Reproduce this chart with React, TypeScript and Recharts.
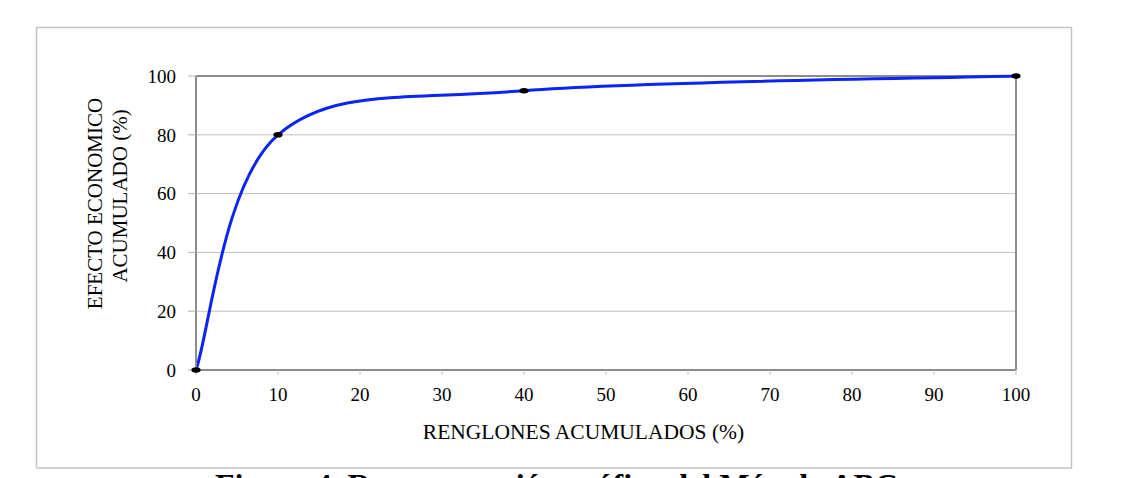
import React from "react";
import { LineChart, Line, XAxis, YAxis, CartesianGrid, ReferenceLine } from "recharts";

const renglones = [0, 10, 40, 100];
const efecto = [0, 80, 95, 100];
const xTicks = [0, 10, 20, 30, 40, 50, 60, 70, 80, 90, 100];
const yTicks = [0, 20, 40, 60, 80, 100];

const data = renglones.map((x, i) => ({ x, y: efecto[i] }));

const FONT = "'Liberation Serif', 'Times New Roman', serif";

// Excel-like smoothed line (Catmull-Rom style Bezier)
const smoothCurve = (context: any) => {
  let pts: [number, number][] = [];
  return {
    areaStart() {},
    areaEnd() {},
    lineStart() {
      pts = [];
    },
    point(x: number, y: number) {
      pts.push([+x, +y]);
    },
    lineEnd() {
      const n = pts.length;
      if (!n) return;
      context.moveTo(pts[0][0], pts[0][1]);
      for (let i = 0; i < n - 1; i++) {
        const p0 = pts[Math.max(0, i - 1)];
        const p1 = pts[i];
        const p2 = pts[i + 1];
        const p3 = pts[Math.min(n - 1, i + 2)];
        context.bezierCurveTo(
          p1[0] + (p2[0] - p0[0]) / 6,
          p1[1] + (p2[1] - p0[1]) / 6,
          p2[0] - (p3[0] - p1[0]) / 6,
          p2[1] - (p3[1] - p1[1]) / 6,
          p2[0],
          p2[1]
        );
      }
    },
  };
};

const Dot = (props: any) => {
  const { cx, cy, index } = props;
  if (cx == null || cy == null) return <g key={index} />;
  return <ellipse key={index} cx={cx} cy={cy} rx={4.6} ry={2.8} fill="#000" />;
};

const YLabel = () => (
  <g>
    <text
      transform="translate(101.5,203.5) rotate(-90)"
      textAnchor="middle"
      fontFamily={FONT}
      fontSize={21}
      fill="#000"
    >
      EFECTO ECONOMICO
    </text>
    <text
      transform="translate(126.5,196) rotate(-90)"
      textAnchor="middle"
      fontFamily={FONT}
      fontSize={21}
      fill="#000"
    >
      ACUMULADO (%)
    </text>
  </g>
);

const XLabel = () => (
  <text x={583.5} y={439} textAnchor="middle" fontFamily={FONT} fontSize={21.5} fill="#000">
    RENGLONES ACUMULADOS (%)
  </text>
);

export default function App() {
  return (
    <div style={{ position: "absolute", left: 0, top: 0, width: 1122, height: 478, overflow: "hidden", background: "#fff" }}>
      <svg width={1122} height={478} style={{ position: "absolute", left: 0, top: 0 }}>
        <rect x={36.5} y={27.5} width={1035} height={440.5} fill="#fff" stroke="#c4c4c4" strokeWidth={1.5} />
        <text x={215} y={496} fontFamily={FONT} fontWeight="bold" fontSize={32} fill="#000">
          Figura 4. Representación gráfica del Método ABC
        </text>
      </svg>
      <div style={{ position: "absolute", left: 0, top: 0 }}>
        <LineChart width={1122} height={478} data={data} margin={{ top: 76, right: 106, bottom: 68, left: 136 }}>
          <CartesianGrid horizontal={true} vertical={false} stroke="#c0c0c0" strokeWidth={1} />
          <XAxis
            dataKey="x"
            type="number"
            domain={[0, 100]}
            ticks={xTicks}
            interval={0}
            height={40}
            tickSize={5}
            tickMargin={13}
            axisLine={{ stroke: "#8c8c8c", strokeWidth: 2 }}
            tickLine={{ stroke: "#c0c0c0", strokeWidth: 1 }}
            tick={{ fontFamily: FONT, fontSize: 19, fill: "#000" }}
            label={{ content: () => <XLabel /> }}
          />
          <YAxis
            type="number"
            domain={[0, 100]}
            ticks={yTicks}
            interval={0}
            width={60}
            tickSize={8}
            tickMargin={12}
            axisLine={{ stroke: "#8c8c8c", strokeWidth: 2 }}
            tickLine={{ stroke: "#b0b0b0", strokeWidth: 1 }}
            tick={{ fontFamily: FONT, fontSize: 19, fill: "#000" }}
            label={{ content: () => <YLabel /> }}
          />
          <ReferenceLine y={100} stroke="#8c8c8c" strokeWidth={2} />
          <ReferenceLine x={100} stroke="#8c8c8c" strokeWidth={2} />
          <Line
            dataKey="y"
            type={smoothCurve as any}
            stroke="#0a24f5"
            strokeWidth={3}
            dot={<Dot />}
            activeDot={false}
            isAnimationActive={false}
          />
        </LineChart>
      </div>
    </div>
  );
}
